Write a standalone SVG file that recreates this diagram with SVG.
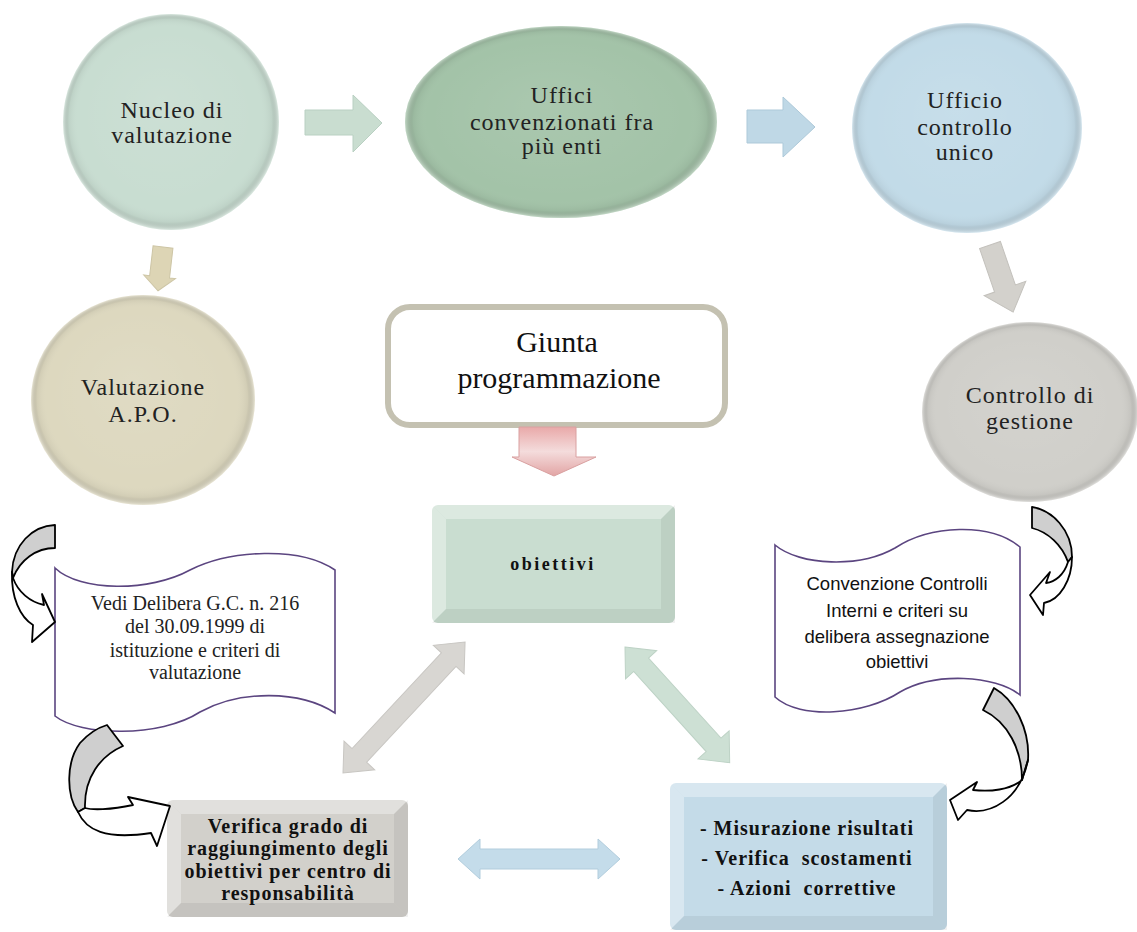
<svg xmlns="http://www.w3.org/2000/svg" width="1137" height="932" viewBox="0 0 1137 932">
<style>
.circ{font-family:"Liberation Serif",serif;font-size:24px;letter-spacing:1px;fill:#222;text-anchor:middle}
.big{font-family:"Liberation Serif",serif;font-size:30px;fill:#111;text-anchor:middle}
.bold{font-family:"Liberation Serif",serif;font-size:20px;font-weight:bold;letter-spacing:1px;fill:#111;text-anchor:middle}
.scr{font-family:"Liberation Serif",serif;font-size:20px;fill:#222;text-anchor:middle}
.sans{font-family:"Liberation Sans",sans-serif;font-size:18.5px;fill:#111;text-anchor:middle}
.scroll{fill:#fff;stroke:#5b4580;stroke-width:1.6}
.curveG{fill:#cfcfcf;stroke:#000;stroke-width:1.8;stroke-linejoin:round}
.curveW{fill:#fff;stroke:#000;stroke-width:1.8;stroke-linejoin:round}
.hl{fill:#fff;opacity:0.35}
.dk{fill:#000;opacity:0.06}
</style>
<defs>
<radialGradient id="shade" cx="0.5" cy="0.5" r="0.5" fx="0.45" fy="0.4">
<stop offset="0" stop-color="#fff" stop-opacity="0.08"/>
<stop offset="0.84" stop-color="#fff" stop-opacity="0"/>
<stop offset="0.94" stop-color="#000" stop-opacity="0.05"/>
<stop offset="1" stop-color="#fff" stop-opacity="0.35"/>
</radialGradient>
<linearGradient id="pink" x1="0" y1="0" x2="0" y2="1">
<stop offset="0" stop-color="#e9a9a9"/>
<stop offset="0.5" stop-color="#f4dcdc"/>
<stop offset="1" stop-color="#e2a4a4"/>
</linearGradient>
</defs>

<g id="nucleo">
<circle cx="171" cy="122" r="108" fill="#c8ddd1"/>
<circle cx="171" cy="122" r="108" fill="url(#shade)"/>
<text class="circ" x="172" y="118">Nucleo di</text>
<text class="circ" x="172" y="143">valutazione</text>
</g>

<g id="uffici">
<ellipse cx="561" cy="122" rx="156" ry="96" fill="#a3c3a8"/>
<ellipse cx="561" cy="122" rx="156" ry="96" fill="url(#shade)"/>
<text class="circ" x="562" y="103">Uffici</text>
<text class="circ" x="562" y="130">convenzionati fra</text>
<text class="circ" x="562" y="154">più enti</text>
</g>

<g id="ufficio-controllo">
<ellipse cx="967" cy="128" rx="115" ry="105" fill="#c2dbe8"/>
<ellipse cx="967" cy="128" rx="115" ry="105" fill="url(#shade)"/>
<text class="circ" x="965" y="108">Ufficio</text>
<text class="circ" x="965" y="135">controllo</text>
<text class="circ" x="965" y="160">unico</text>
</g>

<g id="valutazione">
<ellipse cx="143" cy="400" rx="112" ry="105" fill="#ddd8bf"/>
<ellipse cx="143" cy="400" rx="112" ry="105" fill="url(#shade)"/>
<text class="circ" x="143" y="395">Valutazione</text>
<text class="circ" x="143" y="422">A.P.O.</text>
</g>

<g id="controllo-gestione">
<ellipse cx="1030" cy="412" rx="108" ry="90" fill="#d0cfca"/>
<ellipse cx="1030" cy="412" rx="108" ry="90" fill="url(#shade)"/>
<text class="circ" x="1030" y="403">Controllo di</text>
<text class="circ" x="1030" y="429">gestione</text>
</g>

<g id="giunta">
<rect x="388" y="307" width="337" height="118" rx="22" fill="#fff" stroke="#c4c1b1" stroke-width="6"/>
<text class="big" x="557" y="352">Giunta</text>
<text class="big" x="559" y="388">programmazione</text>
</g>

<g id="obiettivi">
<rect x="432" y="505" width="243" height="118" rx="6" fill="#c9ddd0"/>
<polygon class="hl" points="432,505 675,505 661,519 446,519"/>
<polygon class="hl" points="432,505 446,519 446,609 432,623"/>
<polygon class="dk" points="432,623 446,609 661,609 675,623"/>
<polygon class="dk" points="675,505 661,519 661,609 675,623"/>
<text class="bold" x="553" y="570" style="font-size:18px;letter-spacing:2.5px">obiettivi</text>
</g>

<g id="scroll-left">
<path class="scroll" d="M55,568 C80,592 150,592 190,570 C230,550 300,546 335,570 L335,713 C300,690 240,690 200,712 C160,738 80,736 55,716 Z"/>
<text class="scr" x="195" y="610">Vedi Delibera G.C. n. 216</text>
<text class="scr" x="195" y="633">del 30.09.1999 di</text>
<text class="scr" x="195" y="657">istituzione e criteri di</text>
<text class="scr" x="195" y="679">valutazione</text>
</g>

<g id="scroll-right">
<path class="scroll" d="M775,545 C800,566 860,568 895,548 C930,525 990,522 1020,547 L1020,695 C995,675 935,672 900,692 C865,715 800,720 775,697 Z"/>
<text class="sans" x="897" y="590">Convenzione Controlli</text>
<text class="sans" x="897" y="617">Interni e criteri su</text>
<text class="sans" x="897" y="643">delibera assegnazione</text>
<text class="sans" x="897" y="668">obiettivi</text>
</g>

<g id="verifica">
<rect x="167" y="800" width="241" height="117" rx="6" fill="#d2d0cb"/>
<polygon class="hl" points="167,800 408,800 394,814 181,814"/>
<polygon class="hl" points="167,800 181,814 181,903 167,917"/>
<polygon class="dk" points="167,917 181,903 394,903 408,917"/>
<polygon class="dk" points="408,800 394,814 394,903 408,917"/>
<text class="bold" x="288" y="833">Verifica grado di</text>
<text class="bold" x="288" y="855">raggiungimento degli</text>
<text class="bold" x="288" y="878">obiettivi per centro di</text>
<text class="bold" x="288" y="900">responsabilità</text>
</g>

<g id="misurazione">
<rect x="670" y="783" width="277" height="147" rx="6" fill="#c4dbe8"/>
<polygon class="hl" points="670,783 947,783 933,797 684,797"/>
<polygon class="hl" points="670,783 684,797 684,916 670,930"/>
<polygon class="dk" points="670,930 684,916 933,916 947,930"/>
<polygon class="dk" points="947,783 933,797 933,916 947,930"/>
<text class="bold" x="807" y="835">- Misurazione risultati</text>
<text class="bold" x="807" y="865" xml:space="preserve">- Verifica  scostamenti</text>
<text class="bold" x="807" y="895" xml:space="preserve">- Azioni  correttive</text>
</g>

<g id="connectors">
<polygon points="305,110 353,110 353,95 382,123 353,152 353,135 305,135" fill="#c9ddd0" stroke="#b9d0c2" stroke-width="1"/>
<polygon points="747,110 783,110 783,97 815,127 783,157 783,143 747,143" fill="#bfd8e6" stroke="#adc9d9" stroke-width="1"/>
<polygon transform="translate(163,247) rotate(96.5)" points="0,-10 30,-10 30,-16 44,0 30,16 30,10 0,10" fill="#ddd5b5" stroke="#cdc5a5" stroke-width="1"/>
<polygon transform="translate(990,245) rotate(71)" points="0,-11 46,-11 46,-22 71,0 46,22 46,11 0,11" fill="#d3d1cc" stroke="#c3c1bc" stroke-width="1"/>
<polygon points="519,427 576,427 576,457 596,457 554,476 512,457 519,457" fill="url(#pink)" stroke="#d9a0a0" stroke-width="1"/>
<polygon transform="translate(343,773) rotate(-47)" points="0,0 24,-21 24,-10 155,-10 155,-21 179,0 155,21 155,10 24,10 24,21" fill="#d8d6d2" stroke="#c8c6c2" stroke-width="1"/>
<polygon transform="translate(625,647) rotate(47.85)" points="0,0 24,-21 24,-10 132,-10 132,-21 156,0 132,21 132,10 24,10 24,21" fill="#cde0d4" stroke="#bdd2c5" stroke-width="1"/>
<polygon transform="translate(458,859)" points="0,0 22,-20 22,-10 140,-10 140,-20 162,0 140,20 140,10 22,10 22,20" fill="#c4dcea" stroke="#b2cddd" stroke-width="1"/>
<path class="curveG" d="M55,525 L55,548 C36,548 20,560 13,578 L12,572 C13,545 32,526 55,525 Z"/>
<path class="curveW" d="M12,572 C11,597 20,617 33,625 L32,642 L55,622 L42,594 L44,605 C30,602 18,592 13,578 Z"/>
<path class="curveG" d="M107,725 L123,746 C100,756 84,778 85,808 L78,812 C66,795 66,762 80,743 C88,734 97,728 107,725 Z"/>
<path class="curveW" d="M78,812 C86,830 105,840 151,833 L157,846 L170,806 L128,797 L133,805 C110,810 92,810 85,808 Z"/>
<path class="curveG" d="M1032,507 L1032,528 C1048,532 1062,545 1068,562 L1072,557 C1072,530 1052,510 1032,507 Z"/>
<path class="curveW" d="M1068,562 C1064,575 1055,582 1046,583 L1050,572 L1030,595 L1043,615 L1044,603 C1060,600 1072,580 1072,557 Z"/>
<path class="curveG" d="M994,688 C1015,700 1030,730 1028,760 L1022,780 C1022,750 1008,722 983,710 Z"/>
<path class="curveW" d="M1022,780 C1010,790 990,792 973,790 L977,782 L950,800 L958,820 L967,810 C990,815 1020,800 1028,760 Z"/>
</g>
</svg>
